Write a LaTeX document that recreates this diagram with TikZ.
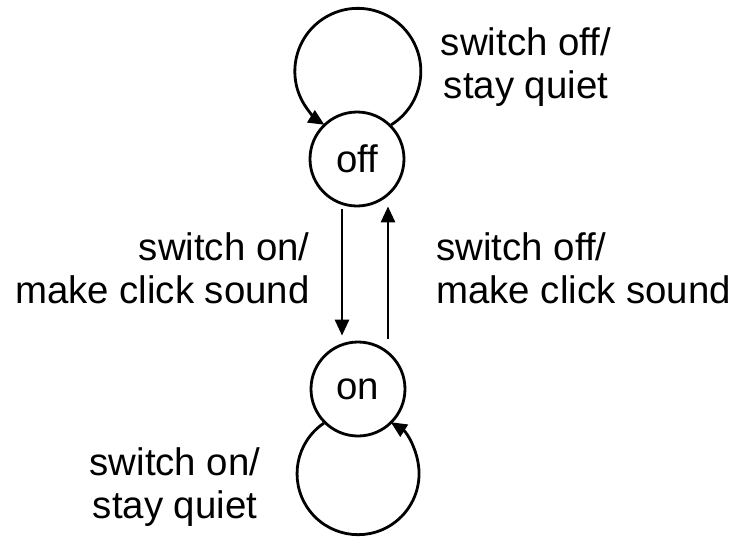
\documentclass[tikz,border=0pt]{standalone}
\usepackage{fontspec}
\setmainfont{Liberation Sans}
\usetikzlibrary{arrows.meta}
\begin{document}
\begin{tikzpicture}[x=0.5pt,y=-0.5pt,
  every node/.style={font=\fontsize{19.2pt}{21.5pt}\selectfont},
  state/.style={draw,circle,line width=1.4pt,minimum size=47pt,inner sep=0pt},
  lbl/.style={inner sep=0pt},
  trans/.style={line width=1.4pt,-{Triangle[length=8pt,width=7pt]}}]
\useasboundingbox (0,0) rectangle (735,537);
\node[state] (off) at (357,159) {off};
\node[state] (on) at (358,389) {on};
\draw[trans] (off.45) arc[start angle=58, end angle=-238, radius=63];
\draw[trans] (on.-135) arc[start angle=235.8, end angle=-57.6, radius=61];
\draw[trans] ([shift={(-15,2)}]off.south) -- ([shift={(-16,-5)}]on.north);
\draw[trans] ([shift={(30,-2)}]on.north) -- ([shift={(31,-1)}]off.south);
\node[lbl,anchor=base] (l1) at (526,55)
  {\begin{tabular}[t]{@{}c@{}}switch off/\\stay quiet\end{tabular}};
\node[lbl,anchor=base east] (l2) at (310,260)
  {\begin{tabular}[t]{@{}r@{}}switch on/\\make click sound\end{tabular}};
\node[lbl,anchor=base west] (l3) at (436,260)
  {\begin{tabular}[t]{@{}l@{}}switch off/\\make click sound\end{tabular}};
\node[lbl,anchor=base] (l4) at (175,475)
  {\begin{tabular}[t]{@{}c@{}}switch on/\\stay quiet\end{tabular}};
\end{tikzpicture}
\end{document}
